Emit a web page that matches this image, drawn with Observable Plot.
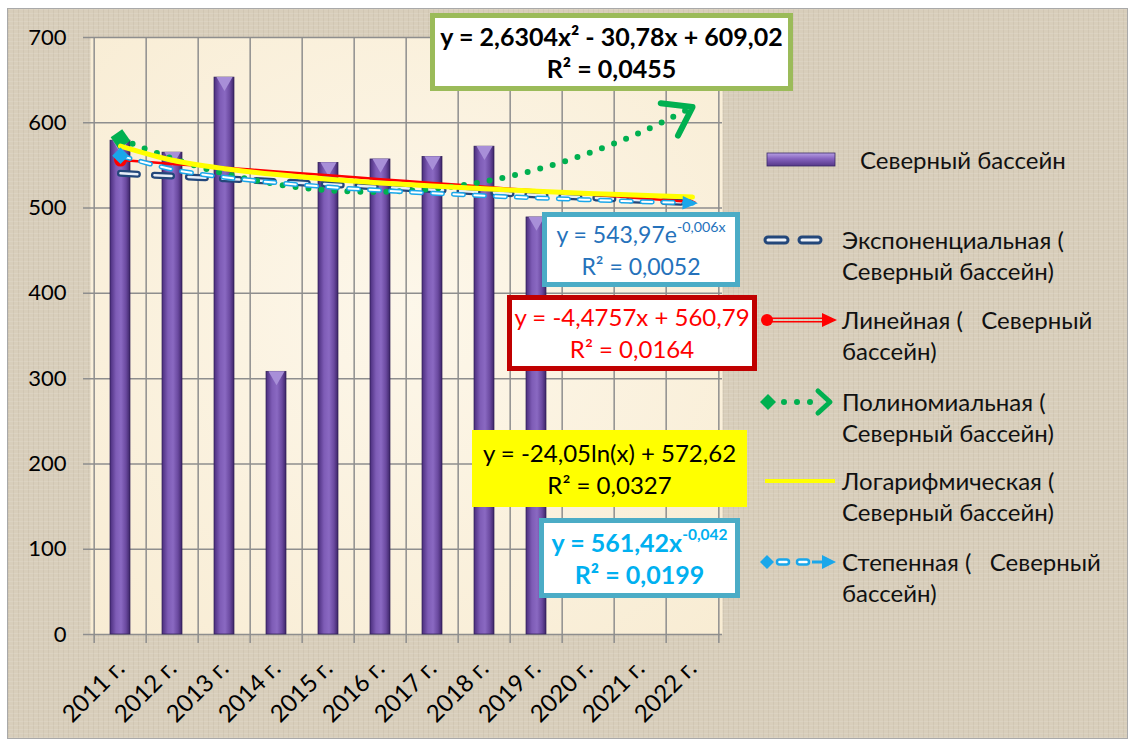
<!DOCTYPE html>
<html><head><meta charset="utf-8">
<script src="https://cdn.jsdelivr.net/npm/d3@7"></script>
<script src="https://cdn.jsdelivr.net/npm/@observablehq/plot@0.6"></script>
<style>
body{margin:0;background:#fff;}
#wrap{position:relative;width:1135px;height:744px;overflow:hidden;font-family:Lato,"Open Sans","Noto Sans",sans-serif;}
#bg{position:absolute;left:7px;top:8px;width:1119px;height:729px;border:1.5px solid #a9a9a9;
  background-color:#d8cebb;
  background-image:repeating-linear-gradient(0deg,rgba(255,255,255,0.10) 0 1px,transparent 1px 4px),repeating-linear-gradient(90deg,rgba(120,105,80,0.08) 0 1px,transparent 1px 5px);}
#chart{position:absolute;left:0;top:0;}
.box{position:absolute;box-sizing:border-box;text-align:center;background:#fff;display:flex;flex-direction:column;justify-content:center;line-height:32px;white-space:nowrap;}
.box sup{font-size:0.62em;line-height:0;vertical-align:0.75em;}
.leg{position:absolute;display:flex;align-items:flex-start;}
.leg svg{flex:none;}
.leg .t{font-size:24px;line-height:31px;color:#111;white-space:pre;}
</style></head><body>
<div id="wrap"><div id="bg"></div><div id="chart"></div><div id="legend"></div><div id="boxes"></div></div>
<script>
// ---------- data ----------
const years = ["2011 г.","2012 г.","2013 г.","2014 г.","2015 г.","2016 г.","2017 г.","2018 г.","2019 г.","2020 г.","2021 г.","2022 г."];
const values = [579, 565, 653, 308, 553, 557, 560, 572, 489];
const yTicks = [0, 100, 200, 300, 400, 500, 600, 700];
// trend-line values at each category (from the equations shown on the chart)
const trendExp    = [540.7, 537.5, 534.3, 531.1, 527.9, 524.7, 521.6, 518.5, 515.4, 512.3, 509.2, 506.2];
const trendLinear = [556.3, 551.8, 547.4, 542.9, 538.4, 533.9, 529.5, 525.0, 520.5, 516.0, 511.6, 507.1];
const trendPoly   = [580.9, 558.0, 540.4, 528.0, 520.9, 519.0, 522.5, 531.1, 545.1, 564.3, 588.7, 618.4];
const trendLog    = [572.6, 556.0, 546.2, 539.3, 533.9, 529.5, 525.8, 522.6, 519.8, 517.2, 515.0, 512.9];
const trendPower  = [561.4, 545.3, 536.1, 529.7, 524.7, 520.7, 517.4, 514.5, 511.9, 509.7, 507.6, 505.8];
const seriesName = "Северный бассейн";
const legendLabels = [
  "Северный бассейн",
  "Экспоненциальная (\nСеверный бассейн)",
  "Линейная (   Северный\nбассейн)",
  "Полиномиальная (\nСеверный бассейн)",
  "Логарифмическая (\nСеверный бассейн)",
  "Степенная (   Северный\nбассейн)"
];
const eqPoly   = ["y = 2,6304x² - 30,78x + 609,02", "R² = 0,0455"];
const eqExp    = ["y = 543,97e<sup>-0,006x</sup>", "R² = 0,0052"];
const eqLinear = ["y = -4,4757x + 560,79", "R² = 0,0164"];
const eqLog    = ["y = -24,05ln(x) + 572,62", "R² = 0,0327"];
const eqPower  = ["y = 561,42x<sup>-0,042</sup>", "R² = 0,0199"];

// ---------- layout / style ----------
const W = 1135, H = 744, mL = 90, mR = 413, mT = 37, mB = 110;
const step = (W - mL - mR) / years.length;
const gridC = "#8e8e8e";
const C = {exp:"#23477a", lin:"#ff0000", poly:"#00b050", log:"#ffff00", pow:"#1aa7ea"};
const font = 'Lato, "Open Sans", "Noto Sans", sans-serif';

const bars = values.map((v, i) => ({year: years[i], value: v}));
const tr = arr => years.map((yr, i) => ({year: yr, v: arr[i]}));
const first = arr => [{year: years[0], v: arr[0]}];
const last = arr => [{year: years[years.length - 1], v: arr[arr.length - 1]}];

const arrowHead = {draw(ctx, size){ const r = Math.sqrt(size/Math.PI); ctx.moveTo(r*0.6,0); ctx.lineTo(-r*1.1,-r*0.75); ctx.lineTo(-r*1.1,r*0.75); ctx.closePath(); }};
const chevron = {draw(ctx, size){ const r = Math.sqrt(size/Math.PI), a = 35*Math.PI/180; ctx.moveTo(-r*Math.cos(a),-r*Math.sin(a)); ctx.lineTo(0,0); ctx.lineTo(-r*Math.cos(a),r*Math.sin(a)); }};

const defsMark = () => {
  const defs = d3.create("svg:defs");
  const g = defs.append("linearGradient").attr("id","barGrad").attr("x1","0").attr("x2","1").attr("y1","0").attr("y2","0");
  [["0%","#4a2d7c"],["30%","#7e5cb6"],["55%","#8a69c2"],["80%","#6a499f"],["100%","#3d2568"]].forEach(([o,c]) => g.append("stop").attr("offset",o).attr("stop-color",c));
  const r = defs.append("radialGradient").attr("id","cream").attr("cx","0.5").attr("cy","0.45").attr("r","0.75");
  [["0%","#fdf7ea"],["100%","#f8ecd3"]].forEach(([o,c]) => r.append("stop").attr("offset",o).attr("stop-color",c));
  return defs.node();
};

const curve = "catmull-rom";
const chart = Plot.plot({
  width: W, height: H,
  marginLeft: mL, marginRight: mR, marginTop: mT, marginBottom: mB,
  style: {background: "transparent", fontFamily: font, color: "#000", overflow: "visible"},
  x: {domain: years, padding: 0, label: null},
  y: {domain: [0, 700], label: null},
  marks: [
    defsMark,
    Plot.frame({fill: "url(#cream)", stroke: "none"}),
    Plot.ruleY(yTicks, {stroke: gridC, strokeWidth: 1.5, insetLeft: -7}),
    Plot.ruleX(years, {x: d => d, y1: 0, y2: 700, dx: -step/2, insetTop: 9, stroke: gridC, strokeWidth: 1.5}),
    Plot.ruleX(years.slice(-1), {x: d => d, y1: 0, y2: 700, dx: step/2, insetTop: 9, stroke: gridC, strokeWidth: 1.5}),
    Plot.barY(bars, {x: "year", y: "value", fill: "url(#barGrad)", insetLeft: 16, insetRight: 16, stroke: "#2f1f55", strokeWidth: 0.7}),
    Plot.dot(bars, {x: "year", y: "value", symbol: "triangle", rotate: 180, r: 6, fill: "#a88fd8", dy: 4}),
    // exponential
    Plot.lineY(tr(trendExp), {x: "year", y: "v", curve, stroke: C.exp, strokeWidth: 7, strokeDasharray: "17 17", strokeLinecap: "round"}),
    Plot.lineY(tr(trendExp), {x: "year", y: "v", curve, stroke: "#e8eef7", strokeWidth: 2.5, strokeDasharray: "17 17", strokeLinecap: "round"}),
    // linear
    Plot.lineY(tr(trendLinear), {x: "year", y: "v", curve, stroke: C.lin, strokeWidth: 2.5}),
    Plot.dot(first(trendLinear), {x: "year", y: "v", r: 6.5, fill: C.lin}),
    Plot.dot(last(trendLinear), {x: "year", y: "v", symbol: arrowHead, r: 7, fill: C.lin, rotate: 3}),
    // polynomial
    Plot.lineY(tr(trendPoly), {x: "year", y: "v", curve, stroke: C.poly, strokeWidth: 6, strokeDasharray: "0 13", strokeLinecap: "round"}),
    Plot.dot(first(trendPoly), {x: "year", y: "v", symbol: "diamond2", r: 9, fill: C.poly, rotate: 10}),
    Plot.dot(last(trendPoly), {x: "year", y: "v", symbol: chevron, r: 32, fill: "none", stroke: C.poly, strokeWidth: 6, strokeLinecap: "round", strokeLinejoin: "round", rotate: -28}),
    // logarithmic
    Plot.lineY(tr(trendLog), {x: "year", y: "v", curve, stroke: C.log, strokeWidth: 5}),
    // power
    Plot.lineY(tr(trendPower), {x: "year", y: "v", curve, stroke: C.pow, strokeWidth: 5, strokeDasharray: "10 11", strokeLinecap: "round"}),
    Plot.lineY(tr(trendPower), {x: "year", y: "v", curve, stroke: "#ffffff", strokeWidth: 2, strokeDasharray: "10 11", strokeLinecap: "round"}),
    Plot.dot(first(trendPower), {x: "year", y: "v", symbol: "diamond2", r: 7.5, fill: C.pow}),
    Plot.dot(last(trendPower), {x: "year", y: "v", symbol: arrowHead, r: 9, fill: C.pow, rotate: 2}),
    // axes
    Plot.axisY({ticks: yTicks, tickSize: 0, tickPadding: 24, fontSize: 22, fill: "#000", label: null}),
    Plot.axisX({tickSize: 0, tickRotate: -45, fontSize: 24, tickPadding: 30, fill: "#000", label: null})
  ]
});
document.getElementById("chart").appendChild(chart);

// ---------- legend ----------
const swatches = [
  `<svg width="80" height="30"><defs><linearGradient id="lg1" x1="0" x2="0" y1="0" y2="1"><stop offset="0" stop-color="#b79ee4"/><stop offset="0.45" stop-color="#8461bd"/><stop offset="1" stop-color="#563889"/></linearGradient></defs><rect x="7" y="8" width="68" height="13" fill="url(#lg1)" stroke="#3b2868" stroke-width="0.8"/></svg>`,
  `<svg width="80" height="30"><rect x="5" y="12" width="23" height="6" rx="3" fill="#eef2f8" stroke="${C.exp}" stroke-width="3"/><rect x="39" y="12" width="22" height="6" rx="3" fill="#eef2f8" stroke="${C.exp}" stroke-width="3"/></svg>`,
  `<svg width="80" height="30"><line x1="8" x2="66" y1="13.3" y2="13.3" stroke="${C.lin}" stroke-width="1.6"/><line x1="8" x2="66" y1="16.7" y2="16.7" stroke="${C.lin}" stroke-width="1.6"/><circle cx="7" cy="15" r="6" fill="${C.lin}"/><polygon points="62,8 77,15 62,22" fill="${C.lin}"/></svg>`,
  `<svg width="80" height="30"><polygon points="8,7 16,15 8,23 0,15" fill="${C.poly}"/><circle cx="24" cy="15" r="3" fill="${C.poly}"/><circle cx="37" cy="15" r="3" fill="${C.poly}"/><circle cx="50" cy="15" r="3" fill="${C.poly}"/><polyline points="58,4 70,15 58,26" fill="none" stroke="${C.poly}" stroke-width="5" stroke-linecap="round" stroke-linejoin="round"/></svg>`,
  `<svg width="80" height="30"><line x1="5" x2="75" y1="15" y2="15" stroke="${C.log}" stroke-width="4"/></svg>`,
  `<svg width="80" height="30"><polygon points="7,8 14,15 7,22 0,15" fill="${C.pow}"/><rect x="17" y="12.5" width="12" height="5" rx="2.5" fill="#fff" stroke="${C.pow}" stroke-width="2.5"/><rect x="37" y="12.5" width="12" height="5" rx="2.5" fill="#fff" stroke="${C.pow}" stroke-width="2.5"/><line x1="52" x2="64" y1="15" y2="15" stroke="${C.pow}" stroke-width="3"/><polygon points="62,8 76,15 62,22" fill="${C.pow}"/></svg>`
];
const legPos = [{top:144, tx:860}, {top:224, tx:842}, {top:304, tx:842}, {top:386, tx:842}, {top:465, tx:842}, {top:546, tx:842}];
const legend = document.getElementById("legend");
legendLabels.forEach((lab, i) => {
  const d = document.createElement("div");
  d.className = "leg";
  d.style.left = "760px"; d.style.top = legPos[i].top + "px";
  d.innerHTML = `<div style="width:${legPos[i].tx - 760}px;height:30px;padding-top:1px">${swatches[i]}</div><div class="t">${lab}</div>`;
  legend.appendChild(d);
});

// ---------- equation boxes ----------
const boxes = [
  {eq: eqPoly,   left:430, top:13,  w:363, h:78, border:"5px solid #9bbb59", color:"#000", weight:700, size:25, bg:"#fff"},
  {eq: eqExp,    left:542, top:212, w:198, h:75, border:"5px solid #4bacc6", color:"#2572bb", weight:400, size:23, bg:"#fff"},
  {eq: eqLinear, left:507, top:295, w:250, h:76, border:"5px solid #c00000", color:"#ff0000", weight:400, size:24, bg:"#fff"},
  {eq: eqLog,    left:472, top:430, w:275, h:77, border:"none", color:"#000", weight:400, size:24, bg:"#ffff00"},
  {eq: eqPower,  left:539, top:518, w:201, h:80, border:"5px solid #4bacc6", color:"#00b0f0", weight:700, size:25, bg:"#fff"}
];
const bx = document.getElementById("boxes");
boxes.forEach(b => {
  const d = document.createElement("div");
  d.className = "box";
  Object.assign(d.style, {left: b.left+"px", top: b.top+"px", width: b.w+"px", height: b.h+"px", border: b.border,
    color: b.color, fontWeight: b.weight, fontSize: b.size+"px", background: b.bg});
  d.innerHTML = b.eq.map(s => `<div>${s}</div>`).join("");
  bx.appendChild(d);
});
</script>
</body></html>
